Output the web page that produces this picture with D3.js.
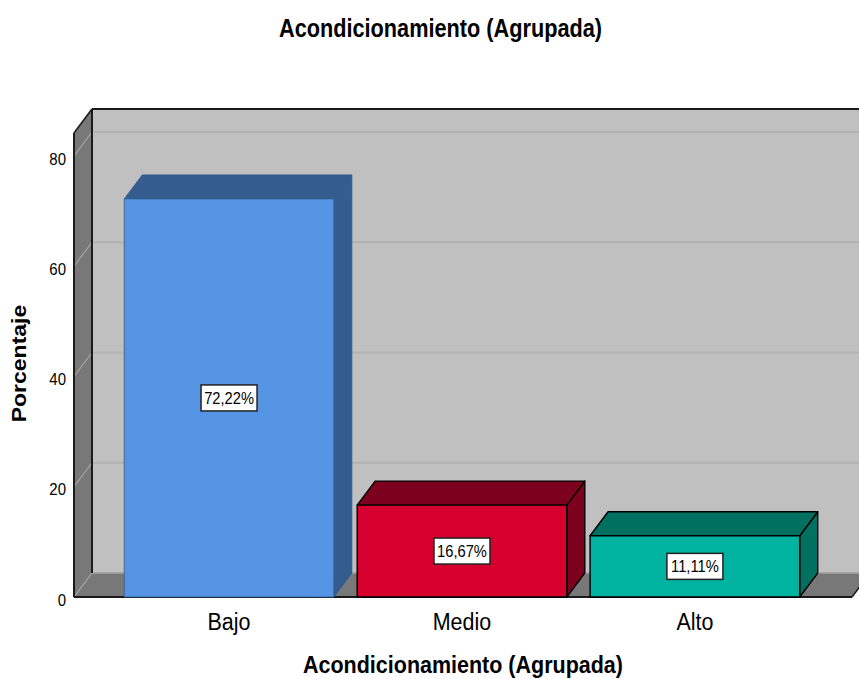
<!DOCTYPE html>
<html>
<head>
<meta charset="utf-8">
<script src="https://cdn.jsdelivr.net/npm/d3@7/dist/d3.min.js"></script>
<style>
  html, body { margin: 0; padding: 0; background: #ffffff; }
  svg { display: block; }
  text { font-family: "Liberation Sans", Arial, sans-serif; fill: #000; }
</style>
</head>
<body>
<svg id="chart" width="859" height="679"></svg>
<script>
// ---- data ----
const categories = ["Bajo", "Medio", "Alto"];
const values = [72.22, 16.67, 11.11];
const valueLabels = ["72,22%", "16,67%", "11,11%"];
const yTicks = [0, 20, 40, 60, 80];
const chartTitle = "Acondicionamiento (Agrupada)";
const xTitle = "Acondicionamiento (Agrupada)";
const yTitle = "Porcentaje";

// ---- styles ----
const frontColors = ["#5594e3", "#d5002e", "#00b3a0"];
const topColors = ["#345c8e", "#7e001f", "#007060"];
const edgeColors = ["#2f5a8c", "#000000", "#000000"];

const svg = d3.select("#chart");
const SY = 1.15; // vertical stretch of text

const frontLeft = 74, frontRight = 852, floorY = 597, plotTop = 133;
const dx = 18, dy = 24;

const y = d3.scaleLinear().domain([0, 80]).range([floorY, 156]);
const x = d3.scaleBand().domain(categories).range([frontLeft, frontRight])
  .paddingInner(0.1).paddingOuter(0.22).align(0.49);

// back wall
svg.append("rect").attr("x", frontLeft + dx).attr("y", plotTop - dy)
  .attr("width", 859 - frontLeft - dx + 20).attr("height", floorY - plotTop)
  .attr("fill", "#c0c0c0");

// left wall
svg.append("polygon")
  .attr("points", [[frontLeft, plotTop], [frontLeft + dx, plotTop - dy], [frontLeft + dx, floorY - dy], [frontLeft, floorY]].join(" "))
  .attr("fill", "#787878");

// floor
svg.append("polygon")
  .attr("points", [[frontLeft, floorY], [frontLeft + dx, floorY - dy], [frontRight + dx, floorY - dy], [frontRight, floorY]].join(" "))
  .attr("fill", "#787878");

// gridlines on back wall and left wall
yTicks.forEach(t => {
  const yy = y(t);
  if (t > 0) {
    svg.append("line").attr("x1", frontLeft + dx).attr("x2", 860)
      .attr("y1", yy - dy).attr("y2", yy - dy)
      .attr("stroke", "#b2b2b2").attr("stroke-width", 2);
  }
  svg.append("line").attr("x1", frontLeft).attr("y1", yy)
    .attr("x2", frontLeft + dx).attr("y2", yy - dy)
    .attr("stroke", "#a6a6a6").attr("stroke-width", 1.2);
});
// floor/back wall seam
svg.append("line").attr("x1", frontLeft + dx).attr("x2", 860)
  .attr("y1", floorY - dy).attr("y2", floorY - dy)
  .attr("stroke", "#a0a0a0").attr("stroke-width", 1.5);

// frame edges
const edge = (x1, y1, x2, y2, w) => svg.append("line")
  .attr("x1", x1).attr("y1", y1).attr("x2", x2).attr("y2", y2)
  .attr("stroke", "#1a1a1a").attr("stroke-width", w || 2);
edge(frontLeft + dx, plotTop - dy, 860, plotTop - dy);
edge(frontLeft + dx, plotTop - dy, frontLeft + dx, floorY - dy);
edge(frontLeft, plotTop, frontLeft, floorY);
edge(frontLeft, plotTop, frontLeft + dx, plotTop - dy, 1.5);
edge(frontLeft, floorY, frontRight, floorY);
edge(frontRight, floorY, frontRight + dx, floorY - dy, 1.5);

// bars
const bars = svg.append("g");
categories.forEach((c, i) => {
  const x0 = x(c), x1 = x(c) + x.bandwidth();
  const yv = y(values[i]), y0 = y(0);
  const g = bars.append("g").attr("stroke", edgeColors[i])
    .attr("stroke-width", i === 0 ? 0.8 : 1.4).attr("stroke-linejoin", "round");
  g.append("polygon")
    .attr("points", [[x1, yv], [x1 + dx, yv - dy], [x1 + dx, y0 - dy], [x1, y0]].join(" "))
    .attr("fill", topColors[i]);
  g.append("polygon")
    .attr("points", [[x0, yv], [x0 + dx, yv - dy], [x1 + dx, yv - dy], [x1, yv]].join(" "))
    .attr("fill", topColors[i]);
  g.append("rect").attr("x", x0).attr("y", yv).attr("width", x1 - x0).attr("height", y0 - yv)
    .attr("fill", frontColors[i]);

  // value label
  const cx = x0 + x.bandwidth() / 2, cy = (yv + y0) / 2;
  bars.append("rect").attr("x", cx - 28).attr("y", cy - 13).attr("width", 56).attr("height", 26)
    .attr("fill", "#ffffff").attr("stroke", "#222").attr("stroke-width", 1.5);
  bars.append("text").attr("transform", `translate(${cx},${cy + 6}) scale(1,${SY})`)
    .attr("text-anchor", "middle").attr("font-size", 14.7).text(valueLabels[i]);

  // category label
  svg.append("text").attr("transform", `translate(${cx},630) scale(1,${SY})`)
    .attr("text-anchor", "middle").attr("font-size", 21.5).attr("fill", "#222").text(c);
});

// y tick labels
yTicks.forEach(t => {
  svg.append("text").attr("transform", `translate(66,${y(t) + 8.7}) scale(1,${SY})`)
    .attr("text-anchor", "end").attr("font-size", 15).attr("fill", "#222").text(t);
});

// titles
svg.append("text").attr("transform", `translate(440.5,37.3) scale(1,${SY})`)
  .attr("text-anchor", "middle").attr("font-size", 21.7).attr("font-weight", "bold").text(chartTitle);
svg.append("text").attr("transform", `translate(463,673) scale(1,${SY})`)
  .attr("text-anchor", "middle").attr("font-size", 21.5).attr("font-weight", "bold").text(xTitle);
svg.append("text").attr("transform", `translate(25.5,363.5) rotate(-90) scale(${SY},1)`)
  .attr("text-anchor", "middle").attr("font-size", 20).attr("font-weight", "bold").text(yTitle);
</script>
</body>
</html>
